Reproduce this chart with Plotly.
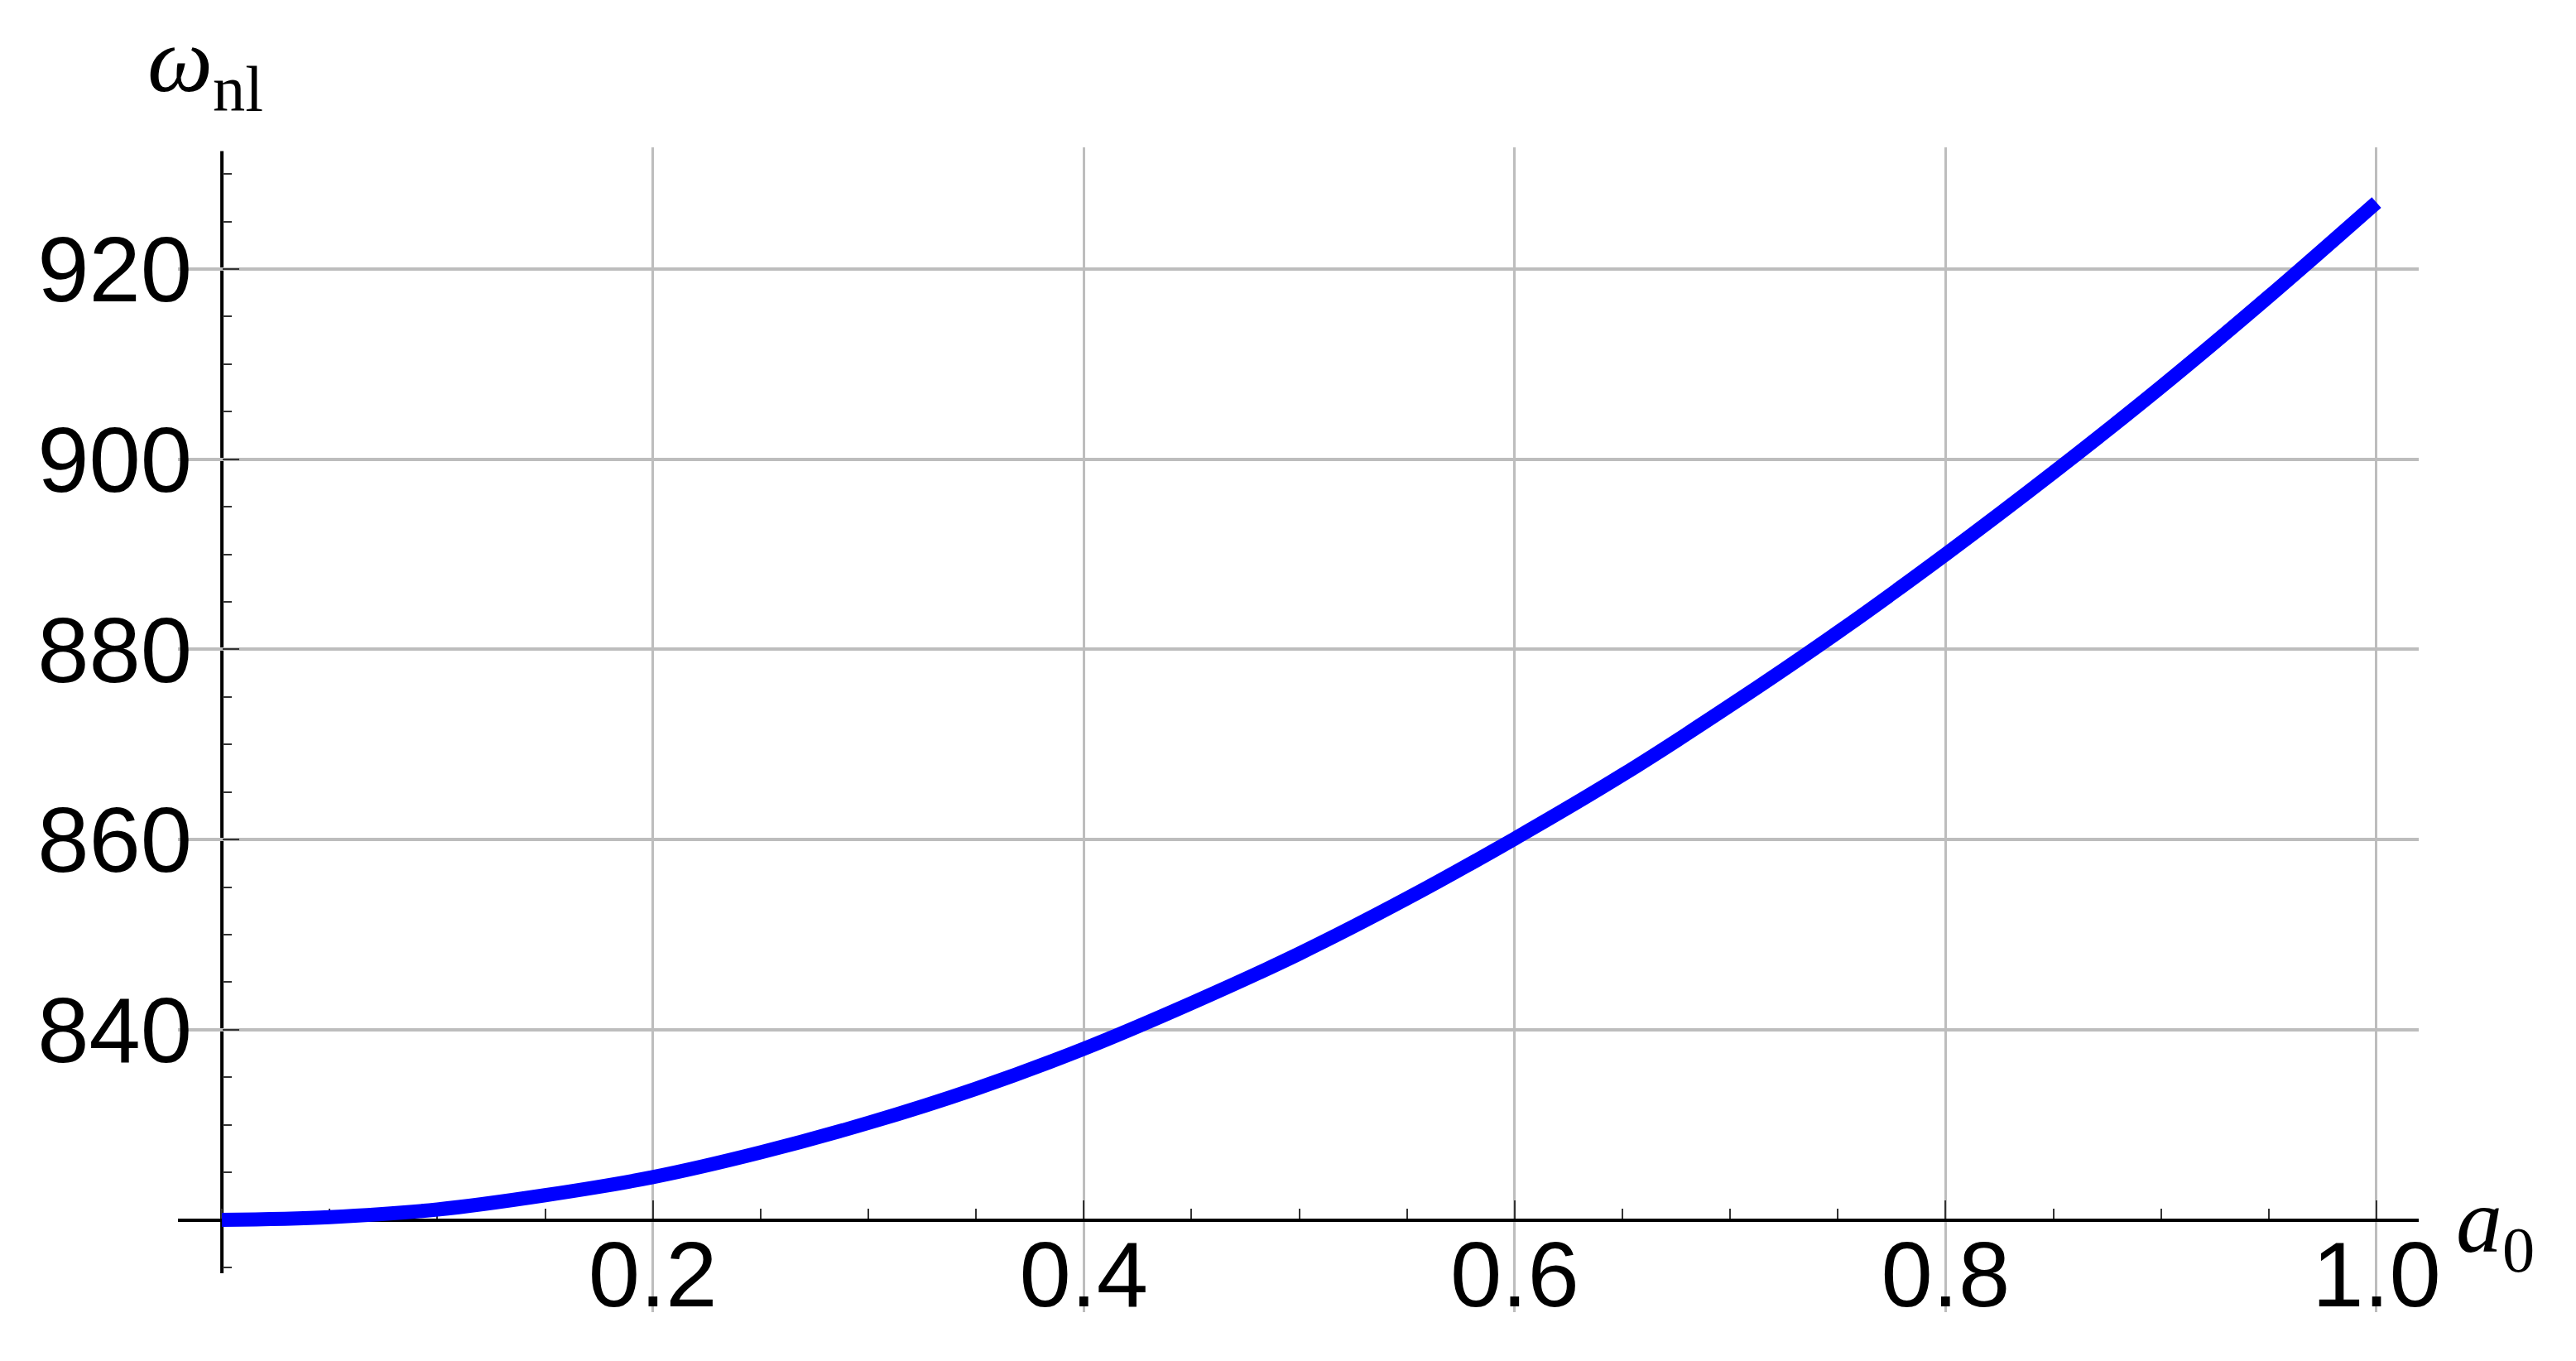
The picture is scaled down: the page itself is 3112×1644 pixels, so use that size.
import plotly.graph_objects as go

# Data
a0 = [0.00, 0.05, 0.10, 0.15, 0.20, 0.25, 0.30, 0.35, 0.40, 0.45, 0.50,
      0.55, 0.60, 0.65, 0.70, 0.75, 0.80, 0.85, 0.90, 0.95, 1.00]
omega_nl = [820.0, 820.3, 821.1, 822.6, 824.5, 827.1, 830.2, 833.8, 838.0, 842.8, 848.0,
            853.8, 860.1, 866.8, 874.1, 881.8, 890.0, 898.6, 907.6, 917.1, 927.0]

x_tickvals = [0.2, 0.4, 0.6, 0.8, 1.0]
x_ticktext = ["0.2", "0.4", "0.6", "0.8", "1.0"]
y_tickvals = [840, 860, 880, 900, 920]
y_ticktext = ["840", "860", "880", "900", "920"]

W, H = 3112, 1644
L, R, T, B = 207, 198, 170, 67
x_range = [-0.0204, 1.0196]
y_range = [810.3, 932.8]
y_origin = 820.0

def px_frac_x(v):
    return (v - x_range[0]) / (x_range[1] - x_range[0])

def px_frac_y(v):
    return (v - y_range[0]) / (y_range[1] - y_range[0])

tick_font = dict(family="Liberation Sans Narrow, Arial Narrow, Liberation Sans, Arial", size=112, color="black")
grid_color = "#BDBDBD"

fig = go.Figure()
fig.add_trace(go.Scatter(
    x=a0, y=omega_nl, mode="lines",
    line=dict(color="#0000FF", width=17, shape="spline"),
    showlegend=False, hoverinfo="skip",
))

fig.update_layout(
    width=W, height=H,
    margin=dict(l=L, r=R, t=T, b=B),
    paper_bgcolor="white", plot_bgcolor="white",
    showlegend=False,
    xaxis=dict(
        range=x_range, domain=[0, 1], anchor="free", position=px_frac_y(y_origin),
        tickmode="array", tickvals=x_tickvals, ticktext=x_ticktext,
        showgrid=True, gridcolor=grid_color, gridwidth=3,
        zeroline=False, showline=True, linecolor="black", linewidth=4,
        ticks="inside", ticklen=22, tickwidth=2, tickcolor="#333333",
        minor=dict(tickmode="linear", tick0=0, dtick=0.05, ticks="inside",
                   ticklen=12, tickwidth=2, tickcolor="#333333", showgrid=False),
        tickfont=tick_font, ticklabelstandoff=-32,
        layer="below traces",
    ),
    yaxis=dict(
        range=y_range, domain=[0, 1], anchor="free", position=px_frac_x(0.0),
        tickmode="array", tickvals=y_tickvals, ticktext=y_ticktext,
        showgrid=True, gridcolor=grid_color, gridwidth=4,
        zeroline=False, showline=False,
        ticks="inside", ticklen=20, tickwidth=2, tickcolor="#333333",
        minor=dict(tickmode="linear", tick0=800, dtick=5, ticks="inside",
                   ticklen=11, tickwidth=2, tickcolor="#333333", showgrid=False),
        tickfont=tick_font, ticklabelstandoff=36,
        layer="below traces",
    ),
)

# y-axis line (Mathematica-style axis through the origin)
fig.add_shape(type="line", xref="x", yref="y", x0=0, x1=0, y0=814.4, y1=932.4,
              line=dict(color="black", width=4), layer="below")

label_font = dict(family="Liberation Serif, Times New Roman, serif", size=112, color="black")
fig.add_annotation(xref="paper", yref="paper", x=-0.0145, y=1.069,
                   xanchor="left", yanchor="middle", showarrow=False,
                   text="<i>ω</i><sub>nl</sub>", font=label_font)
fig.add_annotation(xref="paper", yref="paper", x=1.016, y=0.073,
                   xanchor="left", yanchor="middle", showarrow=False,
                   text="<i>a</i><sub>0</sub>", font=label_font)

fig.write_html("out.html")
